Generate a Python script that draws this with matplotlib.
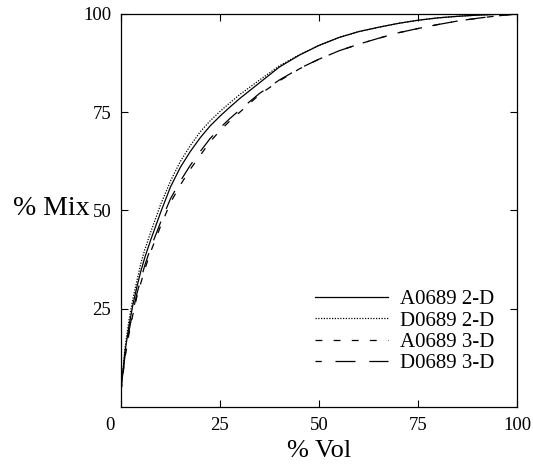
import numpy as np
import matplotlib.pyplot as plt
import matplotlib.transforms as mtransforms

plt.rcParams['font.family'] = ['Liberation Serif', 'DejaVu Serif']

# % Vol sample positions shared by all four curves
vol = [0, 1, 2, 3, 4, 5, 6, 7.5, 10, 12.5, 15, 17.5, 20, 22.5, 25, 27.5, 30,
       35, 40, 45, 50, 55, 60, 65, 70, 75, 80, 85, 90, 95, 100]

a0689_2d = [4, 14, 20.5, 26, 30.5, 34.5, 38, 42.5, 49.5, 56, 61, 65, 68.5, 71.5, 74, 76.3, 78.5,
            82.5, 86.5, 89.5, 92, 94, 95.5, 96.6, 97.6, 98.4, 99, 99.4, 99.7, 99.9, 100]
d0689_2d = [4, 15, 22, 27.5, 32, 36.5, 40, 44.5, 51.5, 57.5, 62.5, 66.5, 70, 72.8, 75.2, 77.4, 79.5,
            83.2, 86.8, 89.6, 92, 94, 95.5, 96.6, 97.6, 98.4, 99, 99.4, 99.7, 99.9, 100]
a0689_3d = [4, 12.5, 18.5, 23.5, 28, 31.5, 35, 39.5, 46, 52, 56.5, 60.5, 64, 67.5, 70.3, 72.8, 75,
            79.5, 83, 86, 88.5, 90.6, 92.3, 93.8, 95.2, 96.3, 97.3, 98.2, 98.9, 99.5, 100]
d0689_3d = [4, 13, 19.2, 24.3, 28.8, 32.4, 36, 40.5, 47, 53, 57.5, 61.5, 65, 68.3, 71, 73.4, 75.6,
            79.8, 83.2, 86.1, 88.5, 90.6, 92.3, 93.8, 95.2, 96.3, 97.3, 98.2, 98.9, 99.5, 100]

xticks = [0, 25, 50, 75, 100]
yticks = [25, 50, 75, 100]

fig = plt.figure(figsize=(5.33, 4.65), dpi=100)
ax = fig.add_axes([0.227, 0.1247, 0.743, 0.8453])

ax.plot(vol, a0689_2d, color='black', lw=0.9, ls='-', label='A0689 2-D')
ax.plot(vol, d0689_2d, color='black', lw=0.9, ls=(0, (1, 1.2)), label='D0689 2-D')
ax.plot(vol, a0689_3d, color='black', lw=0.9, ls=(0, (5.5, 9)), label='A0689 3-D')
ax.plot(vol, d0689_3d, color='black', lw=0.9, ls=(11, (16, 11)), label='D0689 3-D')

ax.set_xlim(0, 100)
ax.set_ylim(0, 100)
ax.set_xticks(xticks)
ax.set_yticks(yticks)
ax.tick_params(direction='in', length=5, width=0.8, top=True, right=True,
               labelsize=13.5, pad=7)
for s in ax.spines.values():
    s.set_linewidth(0.9)

# nudge the "0" at the origin a little to the left
lbl0 = ax.get_xticklabels()[0]
lbl0.set_transform(lbl0.get_transform() +
                   mtransforms.ScaledTranslation(-11 / 100, 0, fig.dpi_scale_trans))

ax.set_xlabel('% Vol', fontsize=19, labelpad=4.5)
ax.set_ylabel('% Mix', fontsize=20, rotation=0, ha='right', va='center')
ax.yaxis.set_label_coords(-0.08, 0.505)

ax.legend(loc='lower right', bbox_to_anchor=(0.944, 0.086), frameon=False,
          fontsize=15, handlelength=3.5, handletextpad=0.58, labelspacing=0.08,
          borderaxespad=0, borderpad=0)

fig.savefig('out.png', dpi=100)
